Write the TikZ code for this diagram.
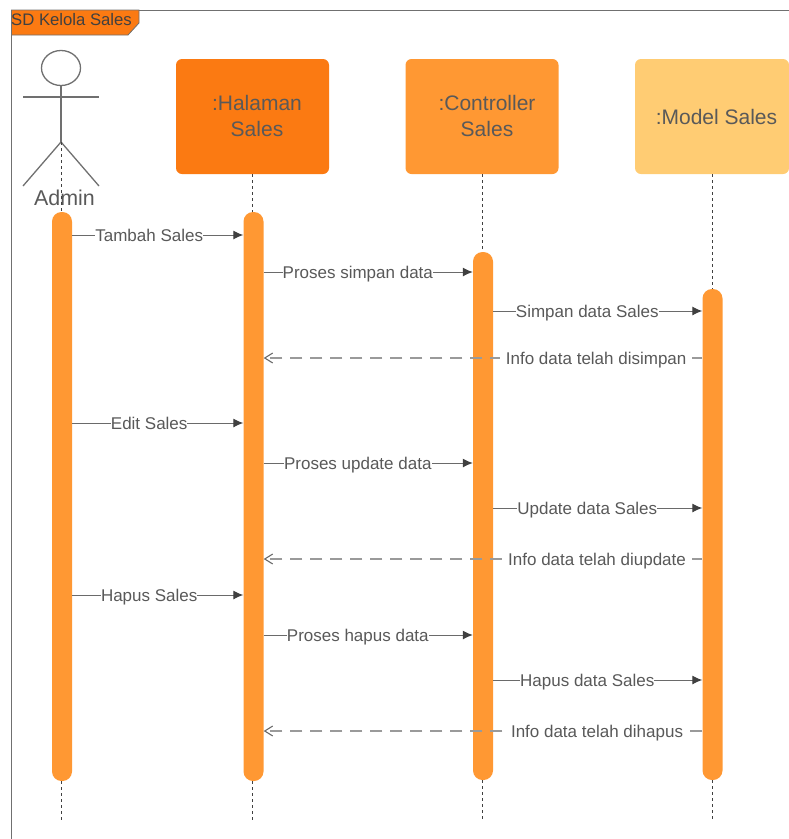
\documentclass[tikz,border=0pt]{standalone}
\usepackage{fontspec}
\setmainfont{Liberation Sans}
\usetikzlibrary{arrows.meta,shapes.geometric}
\definecolor{tabc}{HTML}{FB7A12}
\definecolor{hal}{HTML}{FB7A12}
\definecolor{ctl}{HTML}{FF9833}
\definecolor{mdl}{HTML}{FFCC73}
\definecolor{barc}{HTML}{FF9833}
\definecolor{ink}{HTML}{595959}
\definecolor{linec}{HTML}{6A6A6A}
\definecolor{dashc}{HTML}{9A9A9A}
\definecolor{frm}{HTML}{707070}
\tikzset{
  headbox/.style={draw=none,rounded corners=6pt,minimum width=153pt,minimum height=115pt,inner sep=0pt,align=center,text=ink,font=\fontsize{21}{26}\selectfont},
  actbar/.style={fill=barc,draw=none,rounded corners=9.5pt,minimum width=20pt,inner sep=0pt},
  life/.style={draw=black!75,line width=.8pt,dash pattern=on 3pt off 3pt},
  msg/.style={draw=linec,line width=1pt,-{Latex[length=10pt,width=9pt,color=black!75]}},
  ret/.style={draw=dashc,line width=1.2pt,dash pattern=on 12pt off 8pt,-{Straight Barb[length=8pt,width=10pt,line width=1.1pt,color=linec]}},
  lbl/.style={fill=white,inner xsep=0pt,inner ysep=0pt,text height=12pt,text depth=3.5pt,text=ink,font=\fontsize{17}{20}\selectfont,yshift=-2.5pt},
  rlbl/.style={lbl,inner xsep=6pt},
  actorline/.style={draw=frm,line width=1.3pt}
}
\begin{document}
\begin{tikzpicture}[x=1pt,y=-1pt]
\useasboundingbox (0,0) rectangle (789,839);
% frame
\coordinate (fb) at (11.5,839);
\coordinate (ft) at (11.5,10);
\coordinate (fr) at (789,10);
\draw[draw=frm,line width=1pt] (fb) -- (ft) -- (fr);
\path[fill=tabc,draw=frm,line width=.8pt] (11.5,10) -- (139,10) -- (139,23) -- (128,35) -- (11.5,35) -- cycle;
\node[anchor=west,inner sep=0pt,text=black!75,font=\fontsize{16.7}{18}\selectfont] (title) at (11,19.5) {SD Kelola Sales};
% headers
\node[headbox,fill=hal] (hA) at (252.5,116.5) {\raisebox{1pt}{\hspace*{9pt}:Halaman}\\\raisebox{1pt}{\hspace*{9pt}Sales}};
\node[headbox,fill=ctl] (hB) at (482,116.5) {\raisebox{1pt}{\hspace*{10pt}:Controller}\\\raisebox{1pt}{\hspace*{10pt}Sales}};
\node[headbox,fill=mdl,minimum width=154pt] (hC) at (712,116.5) {\hspace*{9pt}:Model Sales};
% activation bars
\node[actbar,minimum height=569pt] (a0) at (62,496.5) {};
\node[actbar,minimum height=569pt] (a1) at (253.5,496.5) {};
\node[actbar,minimum height=528pt] (a2) at (483,516) {};
\node[actbar,minimum height=491pt] (a3) at (712.5,534.5) {};
% actor
\coordinate (hip) at (61,142);
\coordinate (armL) at (23,97);
\coordinate (armR) at (99,97);
\coordinate (legL) at (23,186);
\coordinate (legR) at (99,186);
\node[draw=frm,line width=1.3pt,ellipse,minimum width=39pt,minimum height=35pt,inner sep=0pt] (head) at (61,68) {};
\draw[actorline] (head.south) -- (hip);
\draw[actorline] (armL) -- (armR);
\draw[actorline] (legL) -- (hip) -- (legR);
\node[text=ink,inner sep=0pt,font=\fontsize{21.4}{24}\selectfont] (admin) at (64.5,198) {Admin};
% lifelines
\coordinate (e0) at (61,822);
\coordinate (e1) at (252.5,822);
\coordinate (e2) at (482,822);
\coordinate (e3) at (712,822);
\draw[life] (hip) -- (hip |- a0.north);
\draw[life] (a0.south -| e0) -- (e0);
\draw[life] (hA.south) -- (hA.south |- a1.north);
\draw[life] (a1.south -| e1) -- (e1);
\draw[life] (hB.south) -- (hB.south |- a2.north);
\draw[life] (a2.south -| e2) -- (e2);
\draw[life] (hC.south) -- (hC.south |- a3.north);
\draw[life] (a3.south -| e3) -- (e3);
% messages
\draw[msg] (a0.east |- 0,235) -- node[lbl,pos=.45] (m1) {Tambah Sales} (a1.west |- 0,235);
\draw[msg] (a1.east |- 0,272) -- node[lbl,pos=.45] (m2) {Proses simpan data} (a2.west |- 0,272);
\draw[msg] (a2.east |- 0,311) -- node[lbl,pos=.45] (m3) {Simpan data Sales} (a3.west |- 0,311);
\draw[ret] (a3.west |- 0,358) -- node[rlbl,pos=.242] (m4) {Info data telah disimpan} (a1.east |- 0,358);
\draw[msg] (a0.east |- 0,423) -- node[lbl,pos=.45] (m5) {Edit Sales} (a1.west |- 0,423);
\draw[msg] (a1.east |- 0,463) -- node[lbl,pos=.45] (m6) {Proses update data} (a2.west |- 0,463);
\draw[msg] (a2.east |- 0,508) -- node[lbl,pos=.45] (m7) {Update data Sales} (a3.west |- 0,508);
\draw[ret] (a3.west |- 0,559) -- node[rlbl,pos=.24] (m8) {Info data telah diupdate} (a1.east |- 0,559);
\draw[msg] (a0.east |- 0,595) -- node[lbl,pos=.45] (m9) {Hapus Sales} (a1.west |- 0,595);
\draw[msg] (a1.east |- 0,635) -- node[lbl,pos=.45] (m10) {Proses hapus data} (a2.west |- 0,635);
\draw[msg] (a2.east |- 0,680) -- node[lbl,pos=.45] (m11) {Hapus data Sales} (a3.west |- 0,680);
\draw[ret] (a3.west |- 0,731) -- node[rlbl,pos=.24] (m12) {Info data telah dihapus} (a1.east |- 0,731);
\end{tikzpicture}
\end{document}
